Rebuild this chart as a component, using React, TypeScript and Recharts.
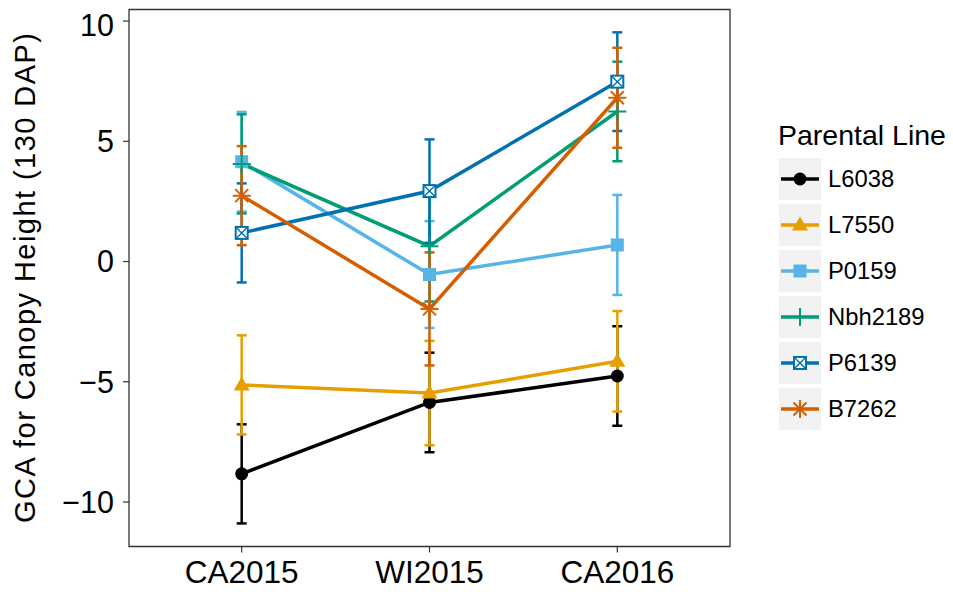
import React from "react";
import { ComposedChart, Line, XAxis, YAxis, ErrorBar, ReferenceArea, Label } from "recharts";

const environments = ["CA2015", "WI2015", "CA2016"];
const parentalLines = ["L6038", "L7550", "P0159", "Nbh2189", "P6139", "B7262"];
const lineColors = ["#000000", "#E69F00", "#56B4E9", "#009E73", "#0072B2", "#D55E00"];
const markerShapes = ["circle", "triangle", "square", "plus", "squareCross", "asterisk"];

// GCA means per environment (CA2015, WI2015, CA2016)
const L6038 = [-8.83, -5.86, -4.76];
const L7550 = [-5.13, -5.47, -4.15];
const P0159 = [4.15, -0.54, 0.69];
const Nbh2189 = [4.06, 0.64, 6.24];
const P6139 = [1.19, 2.93, 7.48];
const B7262 = [2.74, -1.97, 6.81];

// standard errors
const L6038_se = [2.06, 2.07, 2.07];
const L7550_se = [2.06, 2.17, 2.09];
const P0159_se = [2.07, 2.22, 2.08];
const Nbh2189_se = [2.06, 2.3, 2.07];
const P6139_se = [2.06, 2.15, 2.05];
const B7262_se = [2.06, 2.35, 2.08];

const yTicks = [-10, -5, 0, 5, 10];

const means = [L6038, L7550, P0159, Nbh2189, P6139, B7262];
const errors = [L6038_se, L7550_se, P0159_se, Nbh2189_se, P6139_se, B7262_se];

const data = environments.map((env, i) => {
  const row: any = { x: i + 1, env };
  parentalLines.forEach((name, s) => {
    row[name] = means[s][i];
    row[name + "_se"] = errors[s][i];
  });
  return row;
});

const FONT = '"Liberation Sans", Arial, Helvetica, sans-serif';
const Y_MIN = -11.85;
const Y_MAX = 10.48;

function Marker({ shape, color, cx, cy }: any) {
  if (cx == null || cy == null) return null;
  switch (shape) {
    case "circle":
      return <circle cx={cx} cy={cy} r={6.5} fill={color} />;
    case "triangle":
      return (
        <polygon
          points={`${cx},${cy - 8.5} ${cx - 8},${cy + 5.5} ${cx + 8},${cy + 5.5}`}
          fill={color}
        />
      );
    case "square":
      return <rect x={cx - 6.5} y={cy - 6.5} width={13} height={13} fill={color} />;
    case "plus":
      return (
        <g stroke={color} strokeWidth={2}>
          <line x1={cx - 9} y1={cy} x2={cx + 9} y2={cy} />
          <line x1={cx} y1={cy - 9} x2={cx} y2={cy + 9} />
        </g>
      );
    case "squareCross":
      return (
        <g stroke={color} strokeWidth={2}>
          <rect x={cx - 6} y={cy - 6} width={12} height={12} fill="#fff" />
          <line x1={cx - 6} y1={cy - 6} x2={cx + 6} y2={cy + 6} strokeWidth={1.4} />
          <line x1={cx - 6} y1={cy + 6} x2={cx + 6} y2={cy - 6} strokeWidth={1.4} />
        </g>
      );
    case "asterisk":
      return (
        <g stroke={color} strokeWidth={2}>
          <line x1={cx - 9} y1={cy} x2={cx + 9} y2={cy} />
          <line x1={cx} y1={cy - 9} x2={cx} y2={cy + 9} />
          <line x1={cx - 6.5} y1={cy - 6.5} x2={cx + 6.5} y2={cy + 6.5} />
          <line x1={cx - 6.5} y1={cy + 6.5} x2={cx + 6.5} y2={cy - 6.5} />
        </g>
      );
    default:
      return null;
  }
}

const YTitle = ({ viewBox }: any) => {
  const x = 27;
  const y = viewBox.y + viewBox.height / 2;
  return (
    <text
      x={x}
      y={y}
      transform={`rotate(-90, ${x}, ${y})`}
      textAnchor="middle"
      fontSize={29}
      textLength={490}
      lengthAdjust="spacing"
      fontFamily={FONT}
      fill="#000"
    >
      GCA for Canopy Height (130 DAP)
    </text>
  );
};

const fmtY = (v: number) => (v < 0 ? `\u2212${Math.abs(v)}` : `${v}`);

function LegendBox() {
  return (
    <div style={{ position: "absolute", left: 770, top: 0, fontFamily: FONT, color: "#000" }}>
      <div
        style={{
          position: "absolute",
          left: 0,
          top: 113,
          fontSize: 28.5,
          lineHeight: "28.5px",
          whiteSpace: "nowrap",
        }}
      >
        Parental Line
      </div>
      {parentalLines.map((name, s) => (
        <div
          key={name}
          style={{ position: "absolute", left: 1, top: 150 + s * 46, height: 42, display: "flex" }}
        >
          <svg width={42} height={42}>
            <rect x={0} y={0} width={42} height={42} fill="#F2F2F2" />
            <line x1={2} y1={21} x2={40} y2={21} stroke={lineColors[s]} strokeWidth={3.5} />
            <Marker shape={markerShapes[s]} color={lineColors[s]} cx={21} cy={21} />
          </svg>
          <span style={{ marginLeft: 7, fontSize: 23.8, lineHeight: "42px", whiteSpace: "nowrap" }}>
            {name}
          </span>
        </div>
      ))}
    </div>
  );
}

export default function App() {
  return (
    <div style={{ position: "relative", width: 945, height: 584, fontFamily: FONT }}>
      <ComposedChart
        width={945}
        height={584}
        data={data}
        margin={{ top: 1.5, right: 223, left: 0, bottom: 0 }}
      >
        <XAxis
          type="number"
          dataKey="x"
          domain={[0.4, 3.6]}
          ticks={[1, 2, 3]}
          allowDataOverflow
          tickFormatter={(v: number) => environments[v - 1]}
          height={45.5}
          tickSize={6}
          tickMargin={8}
          axisLine={false}
          tickLine={{ stroke: "#333", strokeWidth: 1.2 }}
          tick={{ fontSize: 31.5, fill: "#000", fontFamily: FONT }}
        />
        <YAxis
          type="number"
          domain={[Y_MIN, Y_MAX]}
          ticks={yTicks}
          allowDataOverflow
          width={121}
          tickSize={6}
          tickMargin={9}
          axisLine={false}
          tickFormatter={fmtY}
          tickLine={{ stroke: "#333", strokeWidth: 1.2 }}
          tick={{ fontSize: 30.5, fill: "#000", fontFamily: FONT }}
          label={<Label content={YTitle} />}
        />
        <ReferenceArea
          x1={0.4}
          x2={3.6}
          y1={Y_MIN}
          y2={Y_MAX}
          fill="none"
          stroke="#333"
          strokeWidth={1.3}
          ifOverflow="visible"
        />
        {parentalLines.map((name, s) => (
          <Line
            key={name}
            type="linear"
            dataKey={name}
            stroke={lineColors[s]}
            strokeWidth={3.5}
            isAnimationActive={false}
            activeDot={false}
            dot={(p: any) => (
              <Marker
                key={`${name}-dot-${p.index}`}
                shape={markerShapes[s]}
                color={lineColors[s]}
                cx={p.cx}
                cy={p.cy}
              />
            )}
          />
        ))}
        {parentalLines.map((name, s) => (
          <Line
            key={name + "-err"}
            type="linear"
            dataKey={name}
            stroke="none"
            dot={false}
            activeDot={false}
            legendType="none"
            isAnimationActive={false}
          >
            <ErrorBar
              dataKey={name + "_se"}
              direction="y"
              width={5}
              stroke={lineColors[s]}
              strokeWidth={2.5}
              isAnimationActive={false}
            />
          </Line>
        ))}
      </ComposedChart>
      <LegendBox />
    </div>
  );
}
